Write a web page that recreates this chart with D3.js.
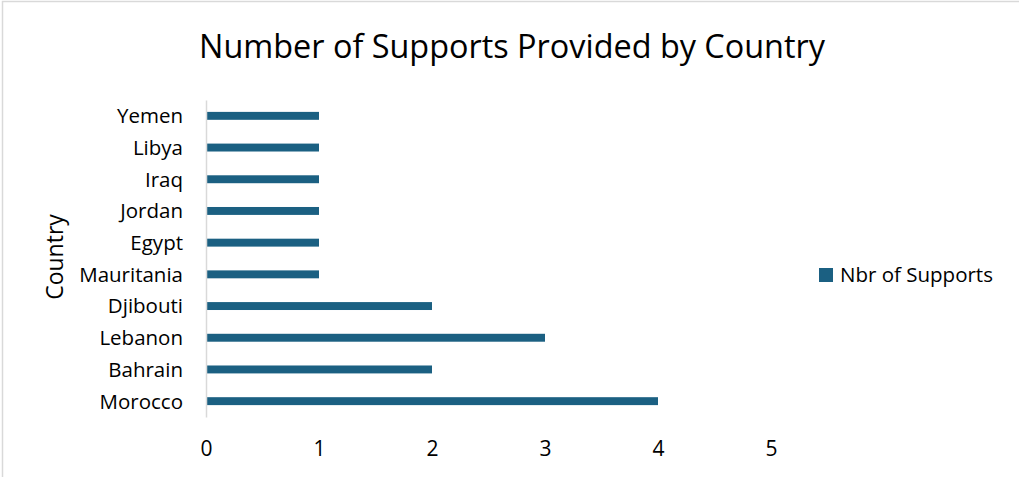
<!DOCTYPE html>
<html>
<head>
<meta charset="utf-8">
<script src="https://cdn.jsdelivr.net/npm/d3@7"></script>
<style>
  html, body { margin: 0; padding: 0; background: #fff; }
  svg { display: block; }
  text { font-family: "Open Sans", Lato, sans-serif; fill: #000; }
</style>
</head>
<body>
<div id="chart"></div>
<script>
// Support counts per country, listed from top to bottom of the chart
const countries = ["Yemen", "Libya", "Iraq", "Jordan", "Egypt", "Mauritania", "Djibouti", "Lebanon", "Bahrain", "Morocco"];
const supports = [1, 1, 1, 1, 1, 1, 2, 3, 2, 4];
const xTicks = [0, 1, 2, 3, 4, 5];
const seriesName = "Nbr of Supports";

const W = 1019, H = 477;
const barColor = "#1b6082";
const labelFont = "\"Open Sans\", Lato, sans-serif";

const svg = d3.select("#chart").append("svg")
  .attr("width", W).attr("height", H);

// chart frame: only the top and left edges fall inside the page
svg.append("path")
  .attr("d", `M2.5,${H} V1.5 H${W}`)
  .attr("fill", "none").attr("stroke", "#d9d9d9").attr("stroke-width", 1.5);

const x = d3.scaleLinear().domain([0, 5]).range([206, 771]);
const y = d3.scaleBand().domain(countries).range([100, 417]).paddingInner(0.75).paddingOuter(0.375);

const data = countries.map((c, i) => ({ country: c, value: supports[i] }));

// bars
svg.append("g").selectAll("rect").data(data).join("rect")
  .attr("x", x(0))
  .attr("y", d => y(d.country))
  .attr("width", d => x(d.value) - x(0))
  .attr("height", y.bandwidth())
  .attr("fill", barColor);

// vertical category axis
const yAxis = svg.append("g")
  .attr("transform", `translate(${x(0)},0)`)
  .call(d3.axisLeft(y).tickSize(0).tickPadding(23));
yAxis.select(".domain").attr("stroke", "#d9d9d9").attr("stroke-width", 1.5);
yAxis.selectAll("text").attr("font-size", 20.5).attr("dy", "0.36em").style("font-family", labelFont).attr("fill", "#000");

// horizontal value axis (labels only)
const xAxis = svg.append("g")
  .attr("transform", "translate(0,456)")
  .call(d3.axisBottom(x).tickValues(xTicks).tickFormat(d3.format("d")).tickSize(0).tickPadding(0));
xAxis.select(".domain").remove();
xAxis.selectAll("text").attr("font-size", 21).attr("dy", 0).style("font-family", labelFont).attr("fill", "#000");

// title
svg.append("text")
  .attr("x", 512).attr("y", 58)
  .attr("text-anchor", "middle")
  .attr("font-size", 32.4)
  .text("Number of Supports Provided by Country");

// axis title
svg.append("text")
  .attr("transform", "translate(63,257) rotate(-90)")
  .attr("text-anchor", "middle")
  .attr("font-size", 23)
  .text("Country");

// legend
const legend = svg.append("g").attr("transform", "translate(819,268)");
legend.append("rect").attr("width", 14).attr("height", 14).attr("fill", barColor);
legend.append("text").attr("x", 21).attr("y", 14).attr("font-size", 20.5).text(seriesName);
</script>
</body>
</html>
